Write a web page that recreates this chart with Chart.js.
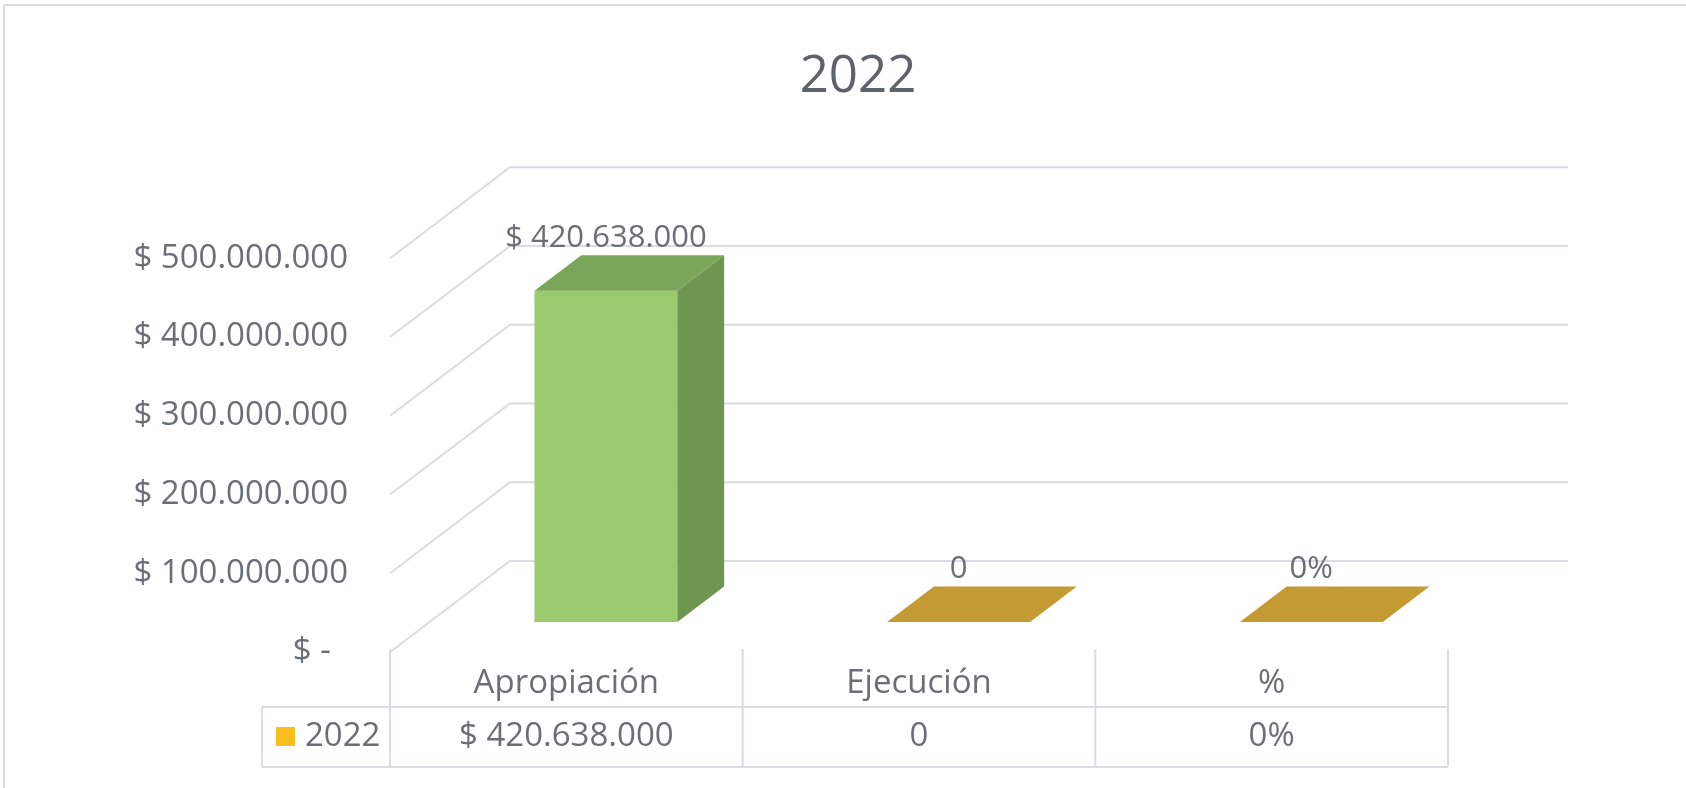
<!DOCTYPE html>
<html lang="es">
<head>
<meta charset="utf-8">
<title>2022</title>
<script src="https://cdn.jsdelivr.net/npm/chart.js@4.4.0/dist/chart.umd.min.js"></script>
<style>
html, body { margin: 0; padding: 0; background: #fff; }
</style>
</head>
<body>
<canvas id="graficaPresupuesto" width="1686" height="788"></canvas>
<script>
var tituloGrafica = "2022";
var categorias = ["Apropiación", "Ejecución", "%"];
var serie2022 = [420638000, 0, 0];
var formatos = ["moneda", "numero", "porcentaje"];
var ticksY = [0, 100000000, 200000000, 300000000, 400000000, 500000000];

var coloresFrente = ['#9bc96e', '#ffc000', '#ffc000'];
var coloresTapa = ['#7ba65a', '#c49a32', '#c49a32'];
var coloresLado = ['#6e9650', '#b08a2a', '#b08a2a'];
var colorSerie = '#f7c020';
var colorTexto = '#6a6f76';
var colorRejilla = '#d9dce1';
var fuente = "'Open Sans', sans-serif";

// oblique depth of the 3D box and where the bars sit inside it
var prof = { dx: 120, dy: -91, inicio: 0.33, fondo: 0.39 };
var tabla = { cabecera: 55, datos: 60, leyenda: 128 };
// the Excel chart frame runs past the right edge of the picture
var marco = { izq: 4, arriba: 5, der: 1712 };

function miles(n) {
    return String(Math.round(n)).replace(/\B(?=(\d{3})+(?!\d))/g, '.');
}
function formatear(v, tipo) {
    if (tipo === 'moneda') return '$ ' + miles(v);
    if (tipo === 'porcentaje') return Math.round(v * 100) + '%';
    return miles(v);
}

var efecto3d = {
    id: 'efecto3d',
    afterLayout: function(chart) {
        // centre the title on the whole frame, like Excel does
        if (chart.titleBlock) {
            chart.titleBlock.left = marco.izq;
            chart.titleBlock.right = marco.der;
        }
    },
    beforeDraw: function(chart) {
        var ctx = chart.ctx;
        ctx.save();
        ctx.strokeStyle = colorRejilla;
        ctx.lineWidth = 2;
        ctx.beginPath();
        ctx.moveTo(marco.izq, chart.height);
        ctx.lineTo(marco.izq, marco.arriba);
        ctx.lineTo(chart.width, marco.arriba);
        ctx.stroke();
        ctx.restore();
    },
    beforeDatasetsDraw: function(chart) {
        var ctx = chart.ctx, a = chart.chartArea, ys = chart.scales.y;
        ctx.save();
        ctx.strokeStyle = colorRejilla;
        ctx.lineWidth = 2;
        ys.ticks.forEach(function(t) {
            var y = ys.getPixelForValue(t.value);
            ctx.beginPath();
            ctx.moveTo(a.left, y);
            ctx.lineTo(a.left + prof.dx, y + prof.dy);
            ctx.lineTo(a.right + prof.dx, y + prof.dy);
            ctx.stroke();
        });
        ctx.restore();
        // front faces are drawn by Chart.js, pushed into the box
        ctx.save();
        ctx.translate(prof.dx * prof.inicio, prof.dy * prof.inicio);
    },
    afterDatasetsDraw: function(chart) {
        var ctx = chart.ctx;
        ctx.restore();
        var meta = chart.getDatasetMeta(0);
        var ox = prof.dx * prof.inicio, oy = prof.dy * prof.inicio;
        var fx = prof.dx * prof.fondo, fy = prof.dy * prof.fondo;
        ctx.save();
        meta.data.forEach(function(bar, i) {
            var p = bar.getProps(['x', 'y', 'base', 'width'], true);
            var L = p.x - p.width / 2 + ox, R = p.x + p.width / 2 + ox;
            var T = p.y + oy, B = p.base + oy;
            ctx.fillStyle = coloresLado[i];
            ctx.beginPath();
            ctx.moveTo(R, T); ctx.lineTo(R + fx, T + fy); ctx.lineTo(R + fx, B + fy); ctx.lineTo(R, B);
            ctx.closePath(); ctx.fill();
            ctx.fillStyle = coloresTapa[i];
            ctx.beginPath();
            ctx.moveTo(L, T); ctx.lineTo(R, T); ctx.lineTo(R + fx, T + fy); ctx.lineTo(L + fx, T + fy);
            ctx.closePath(); ctx.fill();
            ctx.fillStyle = colorTexto;
            ctx.font = '31px ' + fuente;
            ctx.textAlign = 'center';
            ctx.textBaseline = 'middle';
            ctx.fillText(formatear(serie2022[i], formatos[i]), (L + R) / 2, T - 53);
        });
        ctx.restore();
    },
    afterDraw: function(chart) {
        var ctx = chart.ctx, a = chart.chartArea, xs = chart.scales.x;
        var n = categorias.length, ancho = xs.width / n;
        var yCab = a.bottom, yDat = a.bottom + tabla.cabecera, yFin = yDat + tabla.datos;
        var izq = xs.left - tabla.leyenda;
        ctx.save();
        ctx.strokeStyle = colorRejilla;
        ctx.lineWidth = 2;
        ctx.beginPath();
        for (var i = 0; i <= n; i++) {
            var x = xs.left + i * ancho;
            ctx.moveTo(x, yCab - 3);
            ctx.lineTo(x, yFin);
        }
        ctx.moveTo(izq, yDat); ctx.lineTo(xs.right, yDat);
        ctx.moveTo(izq, yFin); ctx.lineTo(xs.right, yFin);
        ctx.moveTo(izq, yDat); ctx.lineTo(izq, yFin);
        ctx.stroke();

        var yMedio = (yDat + yFin) / 2;
        ctx.fillStyle = colorSerie;
        ctx.fillRect(izq + 14, yDat + 20, 19, 19);
        ctx.fillStyle = colorTexto;
        ctx.font = '33px ' + fuente;
        ctx.textBaseline = 'middle';
        ctx.textAlign = 'left';
        ctx.fillText(chart.data.datasets[0].label, izq + 43, yMedio);
        ctx.textAlign = 'center';
        serie2022.forEach(function(v, i) {
            ctx.fillText(formatear(v, formatos[i]), xs.getPixelForValue(i), yMedio);
        });
        ctx.restore();
    }
};

var ctxGrafica = document.getElementById('graficaPresupuesto').getContext('2d');

var graficaPresupuesto = new Chart(ctxGrafica, {
    type: 'bar',
    data: {
        labels: categorias,
        datasets: [{
            label: tituloGrafica,
            data: serie2022,
            backgroundColor: coloresFrente,
            borderWidth: 0,
            barPercentage: 0.405,
            categoryPercentage: 1,
            clip: false
        }]
    },
    options: {
        responsive: false,
        devicePixelRatio: 1,
        animation: false,
        events: [],
        layout: { padding: { left: 0, right: 238, top: 0, bottom: 0 } },
        plugins: {
            legend: { display: false },
            tooltip: { enabled: false },
            title: {
                display: true,
                text: tituloGrafica,
                color: '#5e636a',
                font: { family: fuente, size: 51, weight: 'normal' },
                padding: { top: 47, bottom: 150 }
            }
        },
        scales: {
            x: {
                grid: { display: false, drawTicks: false },
                border: { display: false },
                ticks: {
                    color: colorTexto,
                    font: { family: fuente, size: 33 },
                    padding: 12,
                    maxRotation: 0,
                    autoSkip: false
                },
                afterFit: function(s) { s.height = 136; }
            },
            y: {
                min: 0,
                max: 500000000,
                grid: { display: false, drawTicks: false },
                border: { display: false },
                afterBuildTicks: function(s) {
                    s.ticks = ticksY.map(function(v) { return { value: v }; });
                },
                ticks: {
                    color: colorTexto,
                    font: { family: fuente, size: 33 },
                    padding: 42,
                    callback: function(v) {
                        return v === 0 ? '$ -  ' : '$ ' + miles(v);
                    }
                },
                afterFit: function(s) { s.width = 390; }
            }
        }
    },
    plugins: [efecto3d]
});
</script>
</body>
</html>
